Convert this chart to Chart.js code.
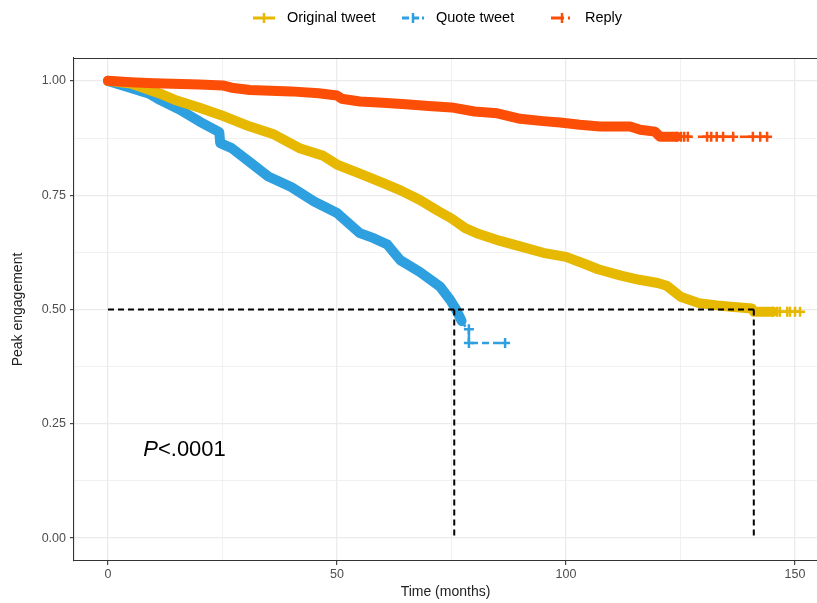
<!DOCTYPE html>
<html>
<head>
<meta charset="utf-8">
<script src="https://cdn.jsdelivr.net/npm/chart.js@4.4.1/dist/chart.umd.min.js"></script>
<style>
  html, body { margin: 0; padding: 0; background: #fff; overflow: hidden; }
  canvas { display: block; }
</style>
</head>
<body>
<canvas id="kmChart" width="817" height="603"></canvas>
<script>
// series
const seriesNames = ['Original tweet', 'Quote tweet', 'Reply'];
const seriesColors = ['#E7B800', '#2E9FDF', '#FC4E07'];

// Original tweet (months, survival, censored times)
const originalTime = [0, 5, 11.4, 15, 20, 25.5, 31, 36, 42, 47, 50, 55, 60, 64, 68, 72, 75, 78, 81, 85.6,
  90, 95, 100, 104, 107, 112, 116, 120, 122, 125, 129, 133, 136, 140.6, 141, 145.2, 146.1, 146.7, 148.3, 148.9, 150, 151.1];
const originalSurv = [1.000, 0.994, 0.972, 0.957, 0.941, 0.922, 0.900, 0.884, 0.852, 0.836, 0.817, 0.797, 0.777, 0.760, 0.740, 0.716, 0.699, 0.678, 0.665, 0.650,
  0.638, 0.624, 0.615, 0.600, 0.588, 0.574, 0.565, 0.558, 0.552, 0.528, 0.514, 0.509, 0.506, 0.502, 0.495, 0.495, 0.495, 0.495, 0.495, 0.495, 0.495, 0.495];
const originalCensor = [145.2, 146.1, 146.7, 148.3, 148.9, 150, 151.1];

// Quote tweet
const quoteTime = [0, 4.8, 9, 11.4, 15.7, 20, 24.3, 24.5, 27, 31, 35, 40, 45, 50, 55, 58, 61, 63.8, 68.1, 72.5,
  74.7, 76, 77.2, 78.4, 78.8, 78.8, 86.7];
const quoteSurv = [1.000, 0.985, 0.972, 0.958, 0.937, 0.911, 0.888, 0.864, 0.853, 0.822, 0.791, 0.768, 0.736, 0.711, 0.667, 0.656, 0.642, 0.608, 0.582, 0.550,
  0.521, 0.500, 0.475, 0.457, 0.457, 0.427, 0.427];
const quoteCensor = [78.8, 86.7];

// Reply
const replyTime = [0, 5, 10, 20, 25, 27, 31, 40, 46, 50, 51, 55, 60, 65, 70, 75, 80, 85, 90, 95,
  98.7, 103, 107.4, 114, 116.2, 119.4, 120.5, 124.2, 125.1, 125.8, 126.6, 130.8, 131.7, 132.9, 134.3, 136.5, 140.8, 142.4, 143.9];
const replySurv = [1.000, 0.997, 0.995, 0.992, 0.990, 0.985, 0.980, 0.977, 0.973, 0.968, 0.961, 0.955, 0.952, 0.949, 0.945, 0.942, 0.933, 0.929, 0.917, 0.912,
  0.909, 0.904, 0.900, 0.900, 0.893, 0.889, 0.878, 0.878, 0.878, 0.878, 0.878, 0.878, 0.878, 0.878, 0.878, 0.878, 0.878, 0.878, 0.878];
const replyCensor = [124.2, 125.1, 125.8, 126.6, 130.8, 131.7, 132.9, 134.3, 136.5, 140.8, 142.4, 143.9];

// median survival times (original, quote)
const medianTimes = [141.0, 75.6];

// axes
const xMajor = [0, 50, 100, 150];
const xTickLabels = ['0', '50', '100', '150'];
const yMajor = [0, 0.25, 0.5, 0.75, 1];
const yTickLabels = ['0.00', '0.25', '0.50', '0.75', '1.00'];

const pValueText = 'P<.0001';

const FONT = '"Liberation Sans", Arial, Helvetica, sans-serif';

// gridlines: majors plus midpoints
const withMinor = arr => arr.flatMap((v, i) => i ? [(arr[i - 1] + v) / 2, v] : [v]);
const xGrid = withMinor(xMajor);
const yGrid = withMinor(yMajor);

const toPoints = (t, s) => t.map((x, i) => ({ x: x, y: s[i] }));

// where the dense band ends and the thin tail line starts
const thinFrom = [145.2, 77.2, 124.2];
const tailDash = [[], [7, 4], [15, 6, 35, 7]];
const legendDash = [[], [7, 3], [13, 4, 2, 4]];
const BAND = 10;

function kmDataset(i, t, s, censor, order) {
  return {
    label: seriesNames[i],
    data: toPoints(t, s),
    borderColor: seriesColors[i],
    backgroundColor: seriesColors[i],
    borderWidth: BAND,
    borderJoinStyle: 'round',
    borderCapStyle: 'round',
    tension: 0,
    fill: false,
    pointStyle: 'cross',
    pointRadius: c => (c.raw && censor.includes(c.raw.x)) ? 5 : 0,
    pointBorderWidth: 2.5,
    pointBorderColor: seriesColors[i],
    pointHitRadius: 0,
    order: order,
    segment: {
      borderWidth: c => c.p0.parsed.x >= thinFrom[i] ? 2.5 : BAND,
      borderDash: c => c.p0.parsed.x >= thinFrom[i] ? tailDash[i] : undefined,
      borderCapStyle: c => c.p0.parsed.x >= thinFrom[i] ? 'butt' : undefined
    }
  };
}

function dashed(points) {
  return {
    label: '',
    data: points,
    borderColor: '#000',
    borderWidth: 2,
    borderDash: [6, 4],
    pointRadius: 0,
    tension: 0,
    fill: false,
    order: 0
  };
}

const datasets = [
  kmDataset(0, originalTime, originalSurv, originalCensor, 2),
  kmDataset(1, quoteTime, quoteSurv, quoteCensor, 3),
  kmDataset(2, replyTime, replySurv, replyCensor, 1),
  dashed([{ x: 0, y: 0.5 }, { x: medianTimes[0], y: 0.5 }]),
  dashed([{ x: medianTimes[1], y: 0.5 }, { x: medianTimes[1], y: 0 }]),
  dashed([{ x: medianTimes[0], y: 0.5 }, { x: medianTimes[0], y: 0 }])
];

// legend drawn like ggplot keys: line + censor cross
const ggLegend = {
  id: 'ggLegend',
  afterDraw(chart) {
    const ctx = chart.ctx;
    ctx.save();
    seriesNames.forEach((name, i) => {
      const x0 = 253 + i * 149, y = 18;
      ctx.strokeStyle = seriesColors[i];
      ctx.lineWidth = 3;
      ctx.setLineDash(legendDash[i]);
      ctx.beginPath();
      ctx.moveTo(x0, y);
      ctx.lineTo(x0 + 22, y);
      ctx.stroke();
      ctx.setLineDash([]);
      ctx.lineWidth = 2.5;
      ctx.beginPath();
      ctx.moveTo(x0 + 11, y - 5);
      ctx.lineTo(x0 + 11, y + 5);
      ctx.stroke();
      ctx.fillStyle = '#000';
      ctx.font = '14.5px ' + FONT;
      ctx.textBaseline = 'middle';
      ctx.fillText(name, x0 + 34, y);
    });
    ctx.restore();
  }
};

// top panel border + p-value label
const panelExtras = {
  id: 'panelExtras',
  afterDatasetsDraw(chart) {
    const { ctx, chartArea, scales } = chart;
    ctx.save();
    ctx.strokeStyle = '#333';
    ctx.lineWidth = 1.1;
    ctx.beginPath();
    ctx.moveTo(chartArea.left, chartArea.top + 0.5);
    ctx.lineTo(chartArea.right, chartArea.top + 0.5);
    ctx.stroke();

    const px = scales.x.getPixelForValue(7.7);
    const py = scales.y.getPixelForValue(0.18);
    ctx.fillStyle = '#000';
    ctx.textBaseline = 'alphabetic';
    ctx.font = 'italic 22px ' + FONT;
    ctx.fillText(pValueText[0], px, py);
    const w = ctx.measureText(pValueText[0]).width;
    ctx.font = '22px ' + FONT;
    ctx.fillText(pValueText.slice(1), px + w, py);
    ctx.restore();
  }
};

const isMajor = (arr, v) => arr.some(m => Math.abs(m - v) < 1e-9);

new Chart(document.getElementById('kmChart'), {
  type: 'line',
  data: { datasets: datasets },
  options: {
    responsive: false,
    animation: false,
    devicePixelRatio: 1,
    events: [],
    layout: { autoPadding: false, padding: { top: 58, left: 0, right: 0, bottom: 0 } },
    plugins: {
      legend: { display: false },
      tooltip: { enabled: false }
    },
    scales: {
      x: {
        type: 'linear',
        min: -7.42,
        max: 154.8,
        afterBuildTicks: s => { s.ticks = xGrid.map(v => ({ value: v })); },
        afterFit: s => { s.height = 42; },
        ticks: {
          autoSkip: false,
          maxRotation: 0,
          padding: 2,
          color: '#4d4d4d',
          font: { family: FONT, size: 12.5 },
          callback: v => { const i = xMajor.indexOf(v); return i >= 0 ? xTickLabels[i] : ''; }
        },
        grid: {
          color: '#ebebeb',
          lineWidth: c => isMajor(xMajor, c.tick.value) ? 1.3 : 0.7,
          tickLength: 4,
          tickWidth: 1.1,
          tickColor: c => isMajor(xMajor, c.tick.value) ? '#333' : 'rgba(0,0,0,0)'
        },
        border: { color: '#333', width: 1.1 },
        title: {
          display: true,
          text: 'Time (months)',
          color: '#222',
          font: { family: FONT, size: 14 },
          padding: { top: 0, bottom: 2 }
        }
      },
      y: {
        type: 'linear',
        min: -0.05,
        max: 1.05,
        afterBuildTicks: s => { s.ticks = yGrid.map(v => ({ value: v })); },
        afterFit: s => { s.width = 74; },
        ticks: {
          autoSkip: false,
          padding: 4,
          color: '#4d4d4d',
          font: { family: FONT, size: 12.5 },
          callback: v => { const i = yMajor.findIndex(m => Math.abs(m - v) < 1e-9); return i >= 0 ? yTickLabels[i] : ''; }
        },
        grid: {
          color: '#ebebeb',
          lineWidth: c => isMajor(yMajor, c.tick.value) ? 1.3 : 0.7,
          tickLength: 4,
          tickWidth: 1.1,
          tickColor: c => isMajor(yMajor, c.tick.value) ? '#333' : 'rgba(0,0,0,0)'
        },
        border: { color: '#333', width: 1.1 },
        title: {
          display: true,
          text: 'Peak engagement',
          color: '#222',
          font: { family: FONT, size: 14 },
          padding: { top: 10, bottom: 0 }
        }
      }
    }
  },
  plugins: [ggLegend, panelExtras]
});
</script>
</body>
</html>
